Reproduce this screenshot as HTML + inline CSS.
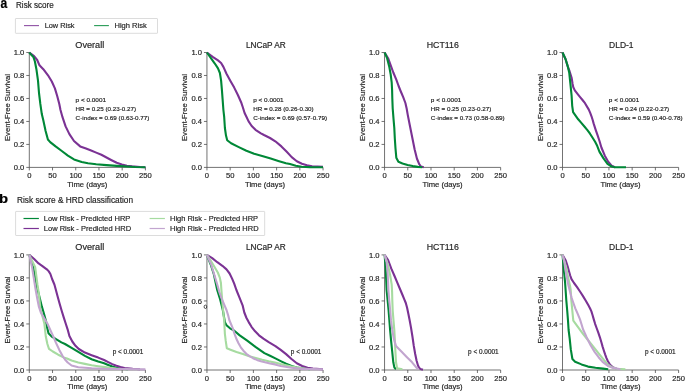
<!DOCTYPE html>
<html><head><meta charset="utf-8"><style>
html,body{margin:0;padding:0;background:#fff;width:685px;height:391px;overflow:hidden;}
svg{display:block;font-family:"Liberation Sans",sans-serif;}
text{-webkit-font-smoothing:antialiased;stroke:currentColor;stroke-width:0.18px;}
</style></head><body>
<div style="will-change:transform"><svg width="685" height="391" viewBox="0 0 685 391" font-family="Liberation Sans, sans-serif">
<rect width="685" height="391" fill="#fff"/>
<text x="0.60" y="7.70" font-size="14" text-anchor="start" font-weight="bold" fill="#000" color="#000" textLength="6.77" lengthAdjust="spacingAndGlyphs">a</text>
<text x="-1.10" y="202.50" font-size="13" text-anchor="start" font-weight="bold" fill="#000" color="#000" textLength="9.10" lengthAdjust="spacingAndGlyphs">b</text>
<text x="16.00" y="7.60" font-size="8.15" text-anchor="start" font-weight="normal" fill="#262626" color="#262626" textLength="37.80" lengthAdjust="spacingAndGlyphs">Risk score</text>
<text x="17.00" y="202.70" font-size="8.25" text-anchor="start" font-weight="normal" fill="#262626" color="#262626" textLength="116.00" lengthAdjust="spacingAndGlyphs">Risk score &amp; HRD classification</text>
<rect x="15.4" y="18.5" width="142.1" height="14.8" rx="0.4" fill="#fff" stroke="#dcdcdc" stroke-width="1"/>
<path d="M24,25.6H39" stroke="#7b3294" stroke-width="1.1" stroke-opacity="0.85"/>
<path d="M94.1,25.6H108.9" stroke="#008837" stroke-width="1.1" stroke-opacity="0.85"/>
<text x="44.70" y="28.00" font-size="7.35" text-anchor="start" font-weight="normal" fill="#262626" color="#262626" textLength="29.80" lengthAdjust="spacingAndGlyphs">Low Risk</text>
<text x="114.50" y="28.00" font-size="7.35" text-anchor="start" font-weight="normal" fill="#262626" color="#262626" textLength="32.20" lengthAdjust="spacingAndGlyphs">High Risk</text>
<rect x="15.6" y="211.4" width="249.1" height="24.1" rx="0.4" fill="#fff" stroke="#dcdcdc" stroke-width="1"/>
<path d="M23.5,218.5H38.9" stroke="#008837" stroke-width="1.2"/>
<path d="M23.5,228.5H38.9" stroke="#7b3294" stroke-width="1.2"/>
<path d="M149.6,218.5H164.9" stroke="#a6dba0" stroke-width="1.2"/>
<path d="M149.6,228.5H164.9" stroke="#c2a5cf" stroke-width="1.2"/>
<text x="43.80" y="220.90" font-size="7.45" text-anchor="start" font-weight="normal" fill="#262626" color="#262626" textLength="86.50" lengthAdjust="spacingAndGlyphs">Low Risk - Predicted HRP</text>
<text x="43.80" y="230.90" font-size="7.45" text-anchor="start" font-weight="normal" fill="#262626" color="#262626" textLength="87.30" lengthAdjust="spacingAndGlyphs">Low Risk - Predicted HRD</text>
<text x="170.00" y="220.90" font-size="7.45" text-anchor="start" font-weight="normal" fill="#262626" color="#262626" textLength="88.10" lengthAdjust="spacingAndGlyphs">High Risk - Predicted HRP</text>
<text x="170.00" y="230.90" font-size="7.45" text-anchor="start" font-weight="normal" fill="#262626" color="#262626" textLength="88.60" lengthAdjust="spacingAndGlyphs">High Risk - Predicted HRD</text>
<path d="M29.30,52.50V167.40H145.40" fill="none" stroke="#444444" stroke-width="0.75"/>
<path d="M26.30,167.40H29.30" stroke="#444444" stroke-width="0.75"/>
<text x="24.30" y="170.10" font-size="7.6" text-anchor="end" font-weight="normal" fill="#262626" color="#262626">0.0</text>
<path d="M26.30,144.42H29.30" stroke="#444444" stroke-width="0.75"/>
<text x="24.30" y="147.12" font-size="7.6" text-anchor="end" font-weight="normal" fill="#262626" color="#262626">0.2</text>
<path d="M26.30,121.44H29.30" stroke="#444444" stroke-width="0.75"/>
<text x="24.30" y="124.14" font-size="7.6" text-anchor="end" font-weight="normal" fill="#262626" color="#262626">0.4</text>
<path d="M26.30,98.46H29.30" stroke="#444444" stroke-width="0.75"/>
<text x="24.30" y="101.16" font-size="7.6" text-anchor="end" font-weight="normal" fill="#262626" color="#262626">0.6</text>
<path d="M26.30,75.48H29.30" stroke="#444444" stroke-width="0.75"/>
<text x="24.30" y="78.18" font-size="7.6" text-anchor="end" font-weight="normal" fill="#262626" color="#262626">0.8</text>
<path d="M26.30,52.50H29.30" stroke="#444444" stroke-width="0.75"/>
<text x="24.30" y="55.20" font-size="7.6" text-anchor="end" font-weight="normal" fill="#262626" color="#262626">1.0</text>
<path d="M29.30,167.40V170.40" stroke="#444444" stroke-width="0.75"/>
<text x="29.30" y="177.90" font-size="7.6" text-anchor="middle" font-weight="normal" fill="#262626" color="#262626">0</text>
<path d="M52.52,167.40V170.40" stroke="#444444" stroke-width="0.75"/>
<text x="52.52" y="177.90" font-size="7.6" text-anchor="middle" font-weight="normal" fill="#262626" color="#262626">50</text>
<path d="M75.74,167.40V170.40" stroke="#444444" stroke-width="0.75"/>
<text x="75.74" y="177.90" font-size="7.6" text-anchor="middle" font-weight="normal" fill="#262626" color="#262626">100</text>
<path d="M98.96,167.40V170.40" stroke="#444444" stroke-width="0.75"/>
<text x="98.96" y="177.90" font-size="7.6" text-anchor="middle" font-weight="normal" fill="#262626" color="#262626">150</text>
<path d="M122.18,167.40V170.40" stroke="#444444" stroke-width="0.75"/>
<text x="122.18" y="177.90" font-size="7.6" text-anchor="middle" font-weight="normal" fill="#262626" color="#262626">200</text>
<path d="M145.40,167.40V170.40" stroke="#444444" stroke-width="0.75"/>
<text x="145.40" y="177.90" font-size="7.6" text-anchor="middle" font-weight="normal" fill="#262626" color="#262626">250</text>
<text x="87.35" y="187.30" font-size="7.6" text-anchor="middle" font-weight="normal" fill="#262626" color="#262626" textLength="40.00" lengthAdjust="spacingAndGlyphs">Time (days)</text>
<text transform="translate(9.50,107.55) rotate(-90)" x="0" y="0" font-size="7.9" text-anchor="middle" fill="#262626" color="#262626" textLength="66.9" lengthAdjust="spacingAndGlyphs">Event-Free Survival</text>
<text x="89.75" y="47.80" font-size="8.3" text-anchor="middle" font-weight="normal" fill="#262626" color="#262626" textLength="28.90" lengthAdjust="spacingAndGlyphs">Overall</text>
<path d="M206.95,52.50V167.40H323.05" fill="none" stroke="#444444" stroke-width="0.75"/>
<path d="M203.95,167.40H206.95" stroke="#444444" stroke-width="0.75"/>
<text x="201.95" y="170.10" font-size="7.6" text-anchor="end" font-weight="normal" fill="#262626" color="#262626">0.0</text>
<path d="M203.95,144.42H206.95" stroke="#444444" stroke-width="0.75"/>
<text x="201.95" y="147.12" font-size="7.6" text-anchor="end" font-weight="normal" fill="#262626" color="#262626">0.2</text>
<path d="M203.95,121.44H206.95" stroke="#444444" stroke-width="0.75"/>
<text x="201.95" y="124.14" font-size="7.6" text-anchor="end" font-weight="normal" fill="#262626" color="#262626">0.4</text>
<path d="M203.95,98.46H206.95" stroke="#444444" stroke-width="0.75"/>
<text x="201.95" y="101.16" font-size="7.6" text-anchor="end" font-weight="normal" fill="#262626" color="#262626">0.6</text>
<path d="M203.95,75.48H206.95" stroke="#444444" stroke-width="0.75"/>
<text x="201.95" y="78.18" font-size="7.6" text-anchor="end" font-weight="normal" fill="#262626" color="#262626">0.8</text>
<path d="M203.95,52.50H206.95" stroke="#444444" stroke-width="0.75"/>
<text x="201.95" y="55.20" font-size="7.6" text-anchor="end" font-weight="normal" fill="#262626" color="#262626">1.0</text>
<path d="M206.95,167.40V170.40" stroke="#444444" stroke-width="0.75"/>
<text x="206.95" y="177.90" font-size="7.6" text-anchor="middle" font-weight="normal" fill="#262626" color="#262626">0</text>
<path d="M230.17,167.40V170.40" stroke="#444444" stroke-width="0.75"/>
<text x="230.17" y="177.90" font-size="7.6" text-anchor="middle" font-weight="normal" fill="#262626" color="#262626">50</text>
<path d="M253.39,167.40V170.40" stroke="#444444" stroke-width="0.75"/>
<text x="253.39" y="177.90" font-size="7.6" text-anchor="middle" font-weight="normal" fill="#262626" color="#262626">100</text>
<path d="M276.61,167.40V170.40" stroke="#444444" stroke-width="0.75"/>
<text x="276.61" y="177.90" font-size="7.6" text-anchor="middle" font-weight="normal" fill="#262626" color="#262626">150</text>
<path d="M299.83,167.40V170.40" stroke="#444444" stroke-width="0.75"/>
<text x="299.83" y="177.90" font-size="7.6" text-anchor="middle" font-weight="normal" fill="#262626" color="#262626">200</text>
<path d="M323.05,167.40V170.40" stroke="#444444" stroke-width="0.75"/>
<text x="323.05" y="177.90" font-size="7.6" text-anchor="middle" font-weight="normal" fill="#262626" color="#262626">250</text>
<text x="265.00" y="187.30" font-size="7.6" text-anchor="middle" font-weight="normal" fill="#262626" color="#262626" textLength="40.00" lengthAdjust="spacingAndGlyphs">Time (days)</text>
<text transform="translate(187.15,107.55) rotate(-90)" x="0" y="0" font-size="7.9" text-anchor="middle" fill="#262626" color="#262626" textLength="66.9" lengthAdjust="spacingAndGlyphs">Event-Free Survival</text>
<text x="265.85" y="47.80" font-size="8.3" text-anchor="middle" font-weight="normal" fill="#262626" color="#262626" textLength="39.90" lengthAdjust="spacingAndGlyphs">LNCaP AR</text>
<path d="M384.55,52.50V167.40H500.65" fill="none" stroke="#444444" stroke-width="0.75"/>
<path d="M381.55,167.40H384.55" stroke="#444444" stroke-width="0.75"/>
<text x="379.55" y="170.10" font-size="7.6" text-anchor="end" font-weight="normal" fill="#262626" color="#262626">0.0</text>
<path d="M381.55,144.42H384.55" stroke="#444444" stroke-width="0.75"/>
<text x="379.55" y="147.12" font-size="7.6" text-anchor="end" font-weight="normal" fill="#262626" color="#262626">0.2</text>
<path d="M381.55,121.44H384.55" stroke="#444444" stroke-width="0.75"/>
<text x="379.55" y="124.14" font-size="7.6" text-anchor="end" font-weight="normal" fill="#262626" color="#262626">0.4</text>
<path d="M381.55,98.46H384.55" stroke="#444444" stroke-width="0.75"/>
<text x="379.55" y="101.16" font-size="7.6" text-anchor="end" font-weight="normal" fill="#262626" color="#262626">0.6</text>
<path d="M381.55,75.48H384.55" stroke="#444444" stroke-width="0.75"/>
<text x="379.55" y="78.18" font-size="7.6" text-anchor="end" font-weight="normal" fill="#262626" color="#262626">0.8</text>
<path d="M381.55,52.50H384.55" stroke="#444444" stroke-width="0.75"/>
<text x="379.55" y="55.20" font-size="7.6" text-anchor="end" font-weight="normal" fill="#262626" color="#262626">1.0</text>
<path d="M384.55,167.40V170.40" stroke="#444444" stroke-width="0.75"/>
<text x="384.55" y="177.90" font-size="7.6" text-anchor="middle" font-weight="normal" fill="#262626" color="#262626">0</text>
<path d="M407.77,167.40V170.40" stroke="#444444" stroke-width="0.75"/>
<text x="407.77" y="177.90" font-size="7.6" text-anchor="middle" font-weight="normal" fill="#262626" color="#262626">50</text>
<path d="M430.99,167.40V170.40" stroke="#444444" stroke-width="0.75"/>
<text x="430.99" y="177.90" font-size="7.6" text-anchor="middle" font-weight="normal" fill="#262626" color="#262626">100</text>
<path d="M454.21,167.40V170.40" stroke="#444444" stroke-width="0.75"/>
<text x="454.21" y="177.90" font-size="7.6" text-anchor="middle" font-weight="normal" fill="#262626" color="#262626">150</text>
<path d="M477.43,167.40V170.40" stroke="#444444" stroke-width="0.75"/>
<text x="477.43" y="177.90" font-size="7.6" text-anchor="middle" font-weight="normal" fill="#262626" color="#262626">200</text>
<path d="M500.65,167.40V170.40" stroke="#444444" stroke-width="0.75"/>
<text x="500.65" y="177.90" font-size="7.6" text-anchor="middle" font-weight="normal" fill="#262626" color="#262626">250</text>
<text x="442.60" y="187.30" font-size="7.6" text-anchor="middle" font-weight="normal" fill="#262626" color="#262626" textLength="40.00" lengthAdjust="spacingAndGlyphs">Time (days)</text>
<text transform="translate(364.75,107.55) rotate(-90)" x="0" y="0" font-size="7.9" text-anchor="middle" fill="#262626" color="#262626" textLength="66.9" lengthAdjust="spacingAndGlyphs">Event-Free Survival</text>
<text x="442.75" y="47.80" font-size="8.3" text-anchor="middle" font-weight="normal" fill="#262626" color="#262626" textLength="32.10" lengthAdjust="spacingAndGlyphs">HCT116</text>
<path d="M562.50,52.50V167.40H678.60" fill="none" stroke="#444444" stroke-width="0.75"/>
<path d="M559.50,167.40H562.50" stroke="#444444" stroke-width="0.75"/>
<text x="557.50" y="170.10" font-size="7.6" text-anchor="end" font-weight="normal" fill="#262626" color="#262626">0.0</text>
<path d="M559.50,144.42H562.50" stroke="#444444" stroke-width="0.75"/>
<text x="557.50" y="147.12" font-size="7.6" text-anchor="end" font-weight="normal" fill="#262626" color="#262626">0.2</text>
<path d="M559.50,121.44H562.50" stroke="#444444" stroke-width="0.75"/>
<text x="557.50" y="124.14" font-size="7.6" text-anchor="end" font-weight="normal" fill="#262626" color="#262626">0.4</text>
<path d="M559.50,98.46H562.50" stroke="#444444" stroke-width="0.75"/>
<text x="557.50" y="101.16" font-size="7.6" text-anchor="end" font-weight="normal" fill="#262626" color="#262626">0.6</text>
<path d="M559.50,75.48H562.50" stroke="#444444" stroke-width="0.75"/>
<text x="557.50" y="78.18" font-size="7.6" text-anchor="end" font-weight="normal" fill="#262626" color="#262626">0.8</text>
<path d="M559.50,52.50H562.50" stroke="#444444" stroke-width="0.75"/>
<text x="557.50" y="55.20" font-size="7.6" text-anchor="end" font-weight="normal" fill="#262626" color="#262626">1.0</text>
<path d="M562.50,167.40V170.40" stroke="#444444" stroke-width="0.75"/>
<text x="562.50" y="177.90" font-size="7.6" text-anchor="middle" font-weight="normal" fill="#262626" color="#262626">0</text>
<path d="M585.72,167.40V170.40" stroke="#444444" stroke-width="0.75"/>
<text x="585.72" y="177.90" font-size="7.6" text-anchor="middle" font-weight="normal" fill="#262626" color="#262626">50</text>
<path d="M608.94,167.40V170.40" stroke="#444444" stroke-width="0.75"/>
<text x="608.94" y="177.90" font-size="7.6" text-anchor="middle" font-weight="normal" fill="#262626" color="#262626">100</text>
<path d="M632.16,167.40V170.40" stroke="#444444" stroke-width="0.75"/>
<text x="632.16" y="177.90" font-size="7.6" text-anchor="middle" font-weight="normal" fill="#262626" color="#262626">150</text>
<path d="M655.38,167.40V170.40" stroke="#444444" stroke-width="0.75"/>
<text x="655.38" y="177.90" font-size="7.6" text-anchor="middle" font-weight="normal" fill="#262626" color="#262626">200</text>
<path d="M678.60,167.40V170.40" stroke="#444444" stroke-width="0.75"/>
<text x="678.60" y="177.90" font-size="7.6" text-anchor="middle" font-weight="normal" fill="#262626" color="#262626">250</text>
<text x="620.55" y="187.30" font-size="7.6" text-anchor="middle" font-weight="normal" fill="#262626" color="#262626" textLength="40.00" lengthAdjust="spacingAndGlyphs">Time (days)</text>
<text transform="translate(542.70,107.55) rotate(-90)" x="0" y="0" font-size="7.9" text-anchor="middle" fill="#262626" color="#262626" textLength="66.9" lengthAdjust="spacingAndGlyphs">Event-Free Survival</text>
<text x="621.35" y="47.80" font-size="8.3" text-anchor="middle" font-weight="normal" fill="#262626" color="#262626" textLength="24.50" lengthAdjust="spacingAndGlyphs">DLD-1</text>
<path d="M29.30,254.90V370.00H145.40" fill="none" stroke="#444444" stroke-width="0.75"/>
<path d="M26.30,370.00H29.30" stroke="#444444" stroke-width="0.75"/>
<text x="24.30" y="372.70" font-size="7.6" text-anchor="end" font-weight="normal" fill="#262626" color="#262626">0.0</text>
<path d="M26.30,346.98H29.30" stroke="#444444" stroke-width="0.75"/>
<text x="24.30" y="349.68" font-size="7.6" text-anchor="end" font-weight="normal" fill="#262626" color="#262626">0.2</text>
<path d="M26.30,323.96H29.30" stroke="#444444" stroke-width="0.75"/>
<text x="24.30" y="326.66" font-size="7.6" text-anchor="end" font-weight="normal" fill="#262626" color="#262626">0.4</text>
<path d="M26.30,300.94H29.30" stroke="#444444" stroke-width="0.75"/>
<text x="24.30" y="303.64" font-size="7.6" text-anchor="end" font-weight="normal" fill="#262626" color="#262626">0.6</text>
<path d="M26.30,277.92H29.30" stroke="#444444" stroke-width="0.75"/>
<text x="24.30" y="280.62" font-size="7.6" text-anchor="end" font-weight="normal" fill="#262626" color="#262626">0.8</text>
<path d="M26.30,254.90H29.30" stroke="#444444" stroke-width="0.75"/>
<text x="24.30" y="257.60" font-size="7.6" text-anchor="end" font-weight="normal" fill="#262626" color="#262626">1.0</text>
<path d="M29.30,370.00V373.00" stroke="#444444" stroke-width="0.75"/>
<text x="29.30" y="380.50" font-size="7.6" text-anchor="middle" font-weight="normal" fill="#262626" color="#262626">0</text>
<path d="M52.52,370.00V373.00" stroke="#444444" stroke-width="0.75"/>
<text x="52.52" y="380.50" font-size="7.6" text-anchor="middle" font-weight="normal" fill="#262626" color="#262626">50</text>
<path d="M75.74,370.00V373.00" stroke="#444444" stroke-width="0.75"/>
<text x="75.74" y="380.50" font-size="7.6" text-anchor="middle" font-weight="normal" fill="#262626" color="#262626">100</text>
<path d="M98.96,370.00V373.00" stroke="#444444" stroke-width="0.75"/>
<text x="98.96" y="380.50" font-size="7.6" text-anchor="middle" font-weight="normal" fill="#262626" color="#262626">150</text>
<path d="M122.18,370.00V373.00" stroke="#444444" stroke-width="0.75"/>
<text x="122.18" y="380.50" font-size="7.6" text-anchor="middle" font-weight="normal" fill="#262626" color="#262626">200</text>
<path d="M145.40,370.00V373.00" stroke="#444444" stroke-width="0.75"/>
<text x="145.40" y="380.50" font-size="7.6" text-anchor="middle" font-weight="normal" fill="#262626" color="#262626">250</text>
<text x="87.35" y="389.30" font-size="7.6" text-anchor="middle" font-weight="normal" fill="#262626" color="#262626" textLength="40.00" lengthAdjust="spacingAndGlyphs">Time (days)</text>
<text transform="translate(9.50,310.05) rotate(-90)" x="0" y="0" font-size="7.9" text-anchor="middle" fill="#262626" color="#262626" textLength="66.9" lengthAdjust="spacingAndGlyphs">Event-Free Survival</text>
<text x="89.75" y="250.20" font-size="8.3" text-anchor="middle" font-weight="normal" fill="#262626" color="#262626" textLength="28.90" lengthAdjust="spacingAndGlyphs">Overall</text>
<path d="M206.95,254.90V370.00H323.05" fill="none" stroke="#444444" stroke-width="0.75"/>
<path d="M203.95,370.00H206.95" stroke="#444444" stroke-width="0.75"/>
<text x="201.95" y="372.70" font-size="7.6" text-anchor="end" font-weight="normal" fill="#262626" color="#262626">0.0</text>
<path d="M203.95,346.98H206.95" stroke="#444444" stroke-width="0.75"/>
<text x="201.95" y="349.68" font-size="7.6" text-anchor="end" font-weight="normal" fill="#262626" color="#262626">0.2</text>
<path d="M203.95,323.96H206.95" stroke="#444444" stroke-width="0.75"/>
<text x="201.95" y="326.66" font-size="7.6" text-anchor="end" font-weight="normal" fill="#262626" color="#262626">0.4</text>
<path d="M203.95,300.94H206.95" stroke="#444444" stroke-width="0.75"/>
<text x="201.95" y="303.64" font-size="7.6" text-anchor="end" font-weight="normal" fill="#262626" color="#262626">0.6</text>
<path d="M203.95,277.92H206.95" stroke="#444444" stroke-width="0.75"/>
<text x="201.95" y="280.62" font-size="7.6" text-anchor="end" font-weight="normal" fill="#262626" color="#262626">0.8</text>
<path d="M203.95,254.90H206.95" stroke="#444444" stroke-width="0.75"/>
<text x="201.95" y="257.60" font-size="7.6" text-anchor="end" font-weight="normal" fill="#262626" color="#262626">1.0</text>
<path d="M206.95,370.00V373.00" stroke="#444444" stroke-width="0.75"/>
<text x="206.95" y="380.50" font-size="7.6" text-anchor="middle" font-weight="normal" fill="#262626" color="#262626">0</text>
<path d="M230.17,370.00V373.00" stroke="#444444" stroke-width="0.75"/>
<text x="230.17" y="380.50" font-size="7.6" text-anchor="middle" font-weight="normal" fill="#262626" color="#262626">50</text>
<path d="M253.39,370.00V373.00" stroke="#444444" stroke-width="0.75"/>
<text x="253.39" y="380.50" font-size="7.6" text-anchor="middle" font-weight="normal" fill="#262626" color="#262626">100</text>
<path d="M276.61,370.00V373.00" stroke="#444444" stroke-width="0.75"/>
<text x="276.61" y="380.50" font-size="7.6" text-anchor="middle" font-weight="normal" fill="#262626" color="#262626">150</text>
<path d="M299.83,370.00V373.00" stroke="#444444" stroke-width="0.75"/>
<text x="299.83" y="380.50" font-size="7.6" text-anchor="middle" font-weight="normal" fill="#262626" color="#262626">200</text>
<path d="M323.05,370.00V373.00" stroke="#444444" stroke-width="0.75"/>
<text x="323.05" y="380.50" font-size="7.6" text-anchor="middle" font-weight="normal" fill="#262626" color="#262626">250</text>
<text x="265.00" y="389.30" font-size="7.6" text-anchor="middle" font-weight="normal" fill="#262626" color="#262626" textLength="40.00" lengthAdjust="spacingAndGlyphs">Time (days)</text>
<text transform="translate(187.15,310.05) rotate(-90)" x="0" y="0" font-size="7.9" text-anchor="middle" fill="#262626" color="#262626" textLength="66.9" lengthAdjust="spacingAndGlyphs">Event-Free Survival</text>
<text x="265.85" y="250.20" font-size="8.3" text-anchor="middle" font-weight="normal" fill="#262626" color="#262626" textLength="39.90" lengthAdjust="spacingAndGlyphs">LNCaP AR</text>
<path d="M384.55,254.90V370.00H500.65" fill="none" stroke="#444444" stroke-width="0.75"/>
<path d="M381.55,370.00H384.55" stroke="#444444" stroke-width="0.75"/>
<text x="379.55" y="372.70" font-size="7.6" text-anchor="end" font-weight="normal" fill="#262626" color="#262626">0.0</text>
<path d="M381.55,346.98H384.55" stroke="#444444" stroke-width="0.75"/>
<text x="379.55" y="349.68" font-size="7.6" text-anchor="end" font-weight="normal" fill="#262626" color="#262626">0.2</text>
<path d="M381.55,323.96H384.55" stroke="#444444" stroke-width="0.75"/>
<text x="379.55" y="326.66" font-size="7.6" text-anchor="end" font-weight="normal" fill="#262626" color="#262626">0.4</text>
<path d="M381.55,300.94H384.55" stroke="#444444" stroke-width="0.75"/>
<text x="379.55" y="303.64" font-size="7.6" text-anchor="end" font-weight="normal" fill="#262626" color="#262626">0.6</text>
<path d="M381.55,277.92H384.55" stroke="#444444" stroke-width="0.75"/>
<text x="379.55" y="280.62" font-size="7.6" text-anchor="end" font-weight="normal" fill="#262626" color="#262626">0.8</text>
<path d="M381.55,254.90H384.55" stroke="#444444" stroke-width="0.75"/>
<text x="379.55" y="257.60" font-size="7.6" text-anchor="end" font-weight="normal" fill="#262626" color="#262626">1.0</text>
<path d="M384.55,370.00V373.00" stroke="#444444" stroke-width="0.75"/>
<text x="384.55" y="380.50" font-size="7.6" text-anchor="middle" font-weight="normal" fill="#262626" color="#262626">0</text>
<path d="M407.77,370.00V373.00" stroke="#444444" stroke-width="0.75"/>
<text x="407.77" y="380.50" font-size="7.6" text-anchor="middle" font-weight="normal" fill="#262626" color="#262626">50</text>
<path d="M430.99,370.00V373.00" stroke="#444444" stroke-width="0.75"/>
<text x="430.99" y="380.50" font-size="7.6" text-anchor="middle" font-weight="normal" fill="#262626" color="#262626">100</text>
<path d="M454.21,370.00V373.00" stroke="#444444" stroke-width="0.75"/>
<text x="454.21" y="380.50" font-size="7.6" text-anchor="middle" font-weight="normal" fill="#262626" color="#262626">150</text>
<path d="M477.43,370.00V373.00" stroke="#444444" stroke-width="0.75"/>
<text x="477.43" y="380.50" font-size="7.6" text-anchor="middle" font-weight="normal" fill="#262626" color="#262626">200</text>
<path d="M500.65,370.00V373.00" stroke="#444444" stroke-width="0.75"/>
<text x="500.65" y="380.50" font-size="7.6" text-anchor="middle" font-weight="normal" fill="#262626" color="#262626">250</text>
<text x="442.60" y="389.30" font-size="7.6" text-anchor="middle" font-weight="normal" fill="#262626" color="#262626" textLength="40.00" lengthAdjust="spacingAndGlyphs">Time (days)</text>
<text transform="translate(364.75,310.05) rotate(-90)" x="0" y="0" font-size="7.9" text-anchor="middle" fill="#262626" color="#262626" textLength="66.9" lengthAdjust="spacingAndGlyphs">Event-Free Survival</text>
<text x="442.75" y="250.20" font-size="8.3" text-anchor="middle" font-weight="normal" fill="#262626" color="#262626" textLength="32.10" lengthAdjust="spacingAndGlyphs">HCT116</text>
<path d="M562.50,254.90V370.00H678.60" fill="none" stroke="#444444" stroke-width="0.75"/>
<path d="M559.50,370.00H562.50" stroke="#444444" stroke-width="0.75"/>
<text x="557.50" y="372.70" font-size="7.6" text-anchor="end" font-weight="normal" fill="#262626" color="#262626">0.0</text>
<path d="M559.50,346.98H562.50" stroke="#444444" stroke-width="0.75"/>
<text x="557.50" y="349.68" font-size="7.6" text-anchor="end" font-weight="normal" fill="#262626" color="#262626">0.2</text>
<path d="M559.50,323.96H562.50" stroke="#444444" stroke-width="0.75"/>
<text x="557.50" y="326.66" font-size="7.6" text-anchor="end" font-weight="normal" fill="#262626" color="#262626">0.4</text>
<path d="M559.50,300.94H562.50" stroke="#444444" stroke-width="0.75"/>
<text x="557.50" y="303.64" font-size="7.6" text-anchor="end" font-weight="normal" fill="#262626" color="#262626">0.6</text>
<path d="M559.50,277.92H562.50" stroke="#444444" stroke-width="0.75"/>
<text x="557.50" y="280.62" font-size="7.6" text-anchor="end" font-weight="normal" fill="#262626" color="#262626">0.8</text>
<path d="M559.50,254.90H562.50" stroke="#444444" stroke-width="0.75"/>
<text x="557.50" y="257.60" font-size="7.6" text-anchor="end" font-weight="normal" fill="#262626" color="#262626">1.0</text>
<path d="M562.50,370.00V373.00" stroke="#444444" stroke-width="0.75"/>
<text x="562.50" y="380.50" font-size="7.6" text-anchor="middle" font-weight="normal" fill="#262626" color="#262626">0</text>
<path d="M585.72,370.00V373.00" stroke="#444444" stroke-width="0.75"/>
<text x="585.72" y="380.50" font-size="7.6" text-anchor="middle" font-weight="normal" fill="#262626" color="#262626">50</text>
<path d="M608.94,370.00V373.00" stroke="#444444" stroke-width="0.75"/>
<text x="608.94" y="380.50" font-size="7.6" text-anchor="middle" font-weight="normal" fill="#262626" color="#262626">100</text>
<path d="M632.16,370.00V373.00" stroke="#444444" stroke-width="0.75"/>
<text x="632.16" y="380.50" font-size="7.6" text-anchor="middle" font-weight="normal" fill="#262626" color="#262626">150</text>
<path d="M655.38,370.00V373.00" stroke="#444444" stroke-width="0.75"/>
<text x="655.38" y="380.50" font-size="7.6" text-anchor="middle" font-weight="normal" fill="#262626" color="#262626">200</text>
<path d="M678.60,370.00V373.00" stroke="#444444" stroke-width="0.75"/>
<text x="678.60" y="380.50" font-size="7.6" text-anchor="middle" font-weight="normal" fill="#262626" color="#262626">250</text>
<text x="620.55" y="389.30" font-size="7.6" text-anchor="middle" font-weight="normal" fill="#262626" color="#262626" textLength="40.00" lengthAdjust="spacingAndGlyphs">Time (days)</text>
<text transform="translate(542.70,310.05) rotate(-90)" x="0" y="0" font-size="7.9" text-anchor="middle" fill="#262626" color="#262626" textLength="66.9" lengthAdjust="spacingAndGlyphs">Event-Free Survival</text>
<text x="621.35" y="250.20" font-size="8.3" text-anchor="middle" font-weight="normal" fill="#262626" color="#262626" textLength="24.50" lengthAdjust="spacingAndGlyphs">DLD-1</text>
<text x="75.60" y="102.20" font-size="6.0" text-anchor="start" font-weight="normal" fill="#262626" color="#262626" textLength="30.40" lengthAdjust="spacingAndGlyphs">p &lt; 0.0001</text>
<text x="75.60" y="111.30" font-size="6.2" text-anchor="start" font-weight="normal" fill="#262626" color="#262626" textLength="60.40" lengthAdjust="spacingAndGlyphs">HR = 0.25 (0.23-0.27)</text>
<text x="75.60" y="120.40" font-size="6.2" text-anchor="start" font-weight="normal" fill="#262626" color="#262626" textLength="73.80" lengthAdjust="spacingAndGlyphs">C-index = 0.69 (0.63-0.77)</text>
<text x="112.70" y="353.80" font-size="6.3" text-anchor="start" font-weight="normal" fill="#262626" color="#262626" textLength="30.60" lengthAdjust="spacingAndGlyphs">p &lt; 0.0001</text>
<text x="253.25" y="102.20" font-size="6.0" text-anchor="start" font-weight="normal" fill="#262626" color="#262626" textLength="30.40" lengthAdjust="spacingAndGlyphs">p &lt; 0.0001</text>
<text x="253.25" y="111.30" font-size="6.2" text-anchor="start" font-weight="normal" fill="#262626" color="#262626" textLength="60.40" lengthAdjust="spacingAndGlyphs">HR = 0.28 (0.26-0.30)</text>
<text x="253.25" y="120.40" font-size="6.2" text-anchor="start" font-weight="normal" fill="#262626" color="#262626" textLength="73.80" lengthAdjust="spacingAndGlyphs">C-index = 0.69 (0.57-0.79)</text>
<text x="290.80" y="353.80" font-size="6.3" text-anchor="start" font-weight="normal" fill="#262626" color="#262626" textLength="30.60" lengthAdjust="spacingAndGlyphs">p &lt; 0.0001</text>
<text x="430.85" y="102.20" font-size="6.0" text-anchor="start" font-weight="normal" fill="#262626" color="#262626" textLength="30.40" lengthAdjust="spacingAndGlyphs">p &lt; 0.0001</text>
<text x="430.85" y="111.30" font-size="6.2" text-anchor="start" font-weight="normal" fill="#262626" color="#262626" textLength="60.40" lengthAdjust="spacingAndGlyphs">HR = 0.25 (0.23-0.27)</text>
<text x="430.85" y="120.40" font-size="6.2" text-anchor="start" font-weight="normal" fill="#262626" color="#262626" textLength="73.80" lengthAdjust="spacingAndGlyphs">C-index = 0.73 (0.58-0.89)</text>
<text x="468.10" y="353.80" font-size="6.3" text-anchor="start" font-weight="normal" fill="#262626" color="#262626" textLength="30.60" lengthAdjust="spacingAndGlyphs">p &lt; 0.0001</text>
<text x="608.80" y="102.20" font-size="6.0" text-anchor="start" font-weight="normal" fill="#262626" color="#262626" textLength="30.40" lengthAdjust="spacingAndGlyphs">p &lt; 0.0001</text>
<text x="608.80" y="111.30" font-size="6.2" text-anchor="start" font-weight="normal" fill="#262626" color="#262626" textLength="60.40" lengthAdjust="spacingAndGlyphs">HR = 0.24 (0.22-0.27)</text>
<text x="608.80" y="120.40" font-size="6.2" text-anchor="start" font-weight="normal" fill="#262626" color="#262626" textLength="73.80" lengthAdjust="spacingAndGlyphs">C-index = 0.59 (0.40-0.78)</text>
<text x="645.00" y="353.80" font-size="6.3" text-anchor="start" font-weight="normal" fill="#262626" color="#262626" textLength="30.60" lengthAdjust="spacingAndGlyphs">p &lt; 0.0001</text>
<polyline points="29.3,52.5 34.1,56.1 37.2,60.0 39.5,65.3 43.3,69.2 48.0,75.3 51.8,81.5 54.9,88.4 57.2,96.0 59.3,104.0 60.5,110.0 62.5,117.2 65.6,126.4 69.4,134.1 74.0,141.0 80.2,146.4 86.0,148.6 91.1,150.5 96.2,152.6 101.4,154.8 106.5,157.5 111.6,160.2 116.7,162.8 121.8,164.6 126.9,165.7 132.1,166.3 140.0,167.0 145.4,167.2" fill="none" stroke="#7b3294" stroke-width="2.1" stroke-linejoin="round" stroke-linecap="butt"/>
<polyline points="29.3,52.5 30.3,53.8 33.4,56.9 34.9,61.5 36.4,69.2 38.0,80.7 39.0,93.0 40.3,103.7 41.8,114.1 43.3,120.3 45.6,131.0 47.9,139.5 50.2,142.1 55.6,146.4 61.8,151.0 67.9,155.6 74.0,159.4 81.7,162.0 88.0,163.2 96.2,164.2 106.5,165.1 116.7,165.9 126.9,166.5 135.0,167.0 145.4,167.2" fill="none" stroke="#008837" stroke-width="2.1" stroke-linejoin="round" stroke-linecap="butt"/>
<polyline points="206.9,52.5 212.7,56.9 218.0,60.4 221.1,63.0 223.4,66.9 226.5,73.8 230.3,80.7 234.2,87.6 238.0,95.3 241.1,102.2 242.9,107.5 244.6,113.0 246.3,116.5 248.6,121.4 251.7,126.0 255.5,129.8 260.9,133.3 264.0,135.0 267.0,136.5 270.0,138.0 275.3,141.3 281.4,146.4 286.5,151.5 291.7,157.1 296.8,161.2 301.9,163.8 307.0,165.3 312.1,166.2 323.0,166.9" fill="none" stroke="#7b3294" stroke-width="2.1" stroke-linejoin="round" stroke-linecap="butt"/>
<polyline points="206.9,52.5 211.1,58.4 215.0,63.8 218.0,68.4 219.9,73.0 221.1,80.7 221.9,89.9 222.6,99.1 223.4,110.0 224.2,117.2 224.9,128.0 226.0,135.6 227.2,140.2 231.1,143.3 238.8,147.1 246.4,150.7 254.1,153.7 263.0,156.3 270.7,158.6 278.3,160.9 286.0,163.2 290.0,164.1 295.8,165.8 301.7,166.7 310.0,167.1 323.0,167.3" fill="none" stroke="#008837" stroke-width="2.1" stroke-linejoin="round" stroke-linecap="butt"/>
<polyline points="384.6,52.5 388.1,58.2 390.7,65.3 393.3,72.5 396.3,79.7 398.6,86.0 400.8,91.5 403.2,97.2 405.4,103.0 406.7,108.8 407.7,114.6 410.0,126.2 412.3,137.7 414.6,149.2 416.9,158.5 419.2,164.2 421.0,166.6 423.8,167.3" fill="none" stroke="#7b3294" stroke-width="2.1" stroke-linejoin="round" stroke-linecap="butt"/>
<polyline points="384.6,52.5 387.1,58.2 389.2,66.4 390.7,74.6 391.7,82.7 392.1,90.0 392.3,98.2 392.7,108.5 393.5,118.7 394.3,128.0 394.8,138.2 395.5,148.5 396.3,157.7 398.4,161.8 402.5,163.4 407.6,164.9 412.7,166.1 417.8,166.9 422.3,167.3" fill="none" stroke="#008837" stroke-width="2.1" stroke-linejoin="round" stroke-linecap="butt"/>
<polyline points="562.5,52.5 565.6,59.2 567.7,66.4 569.5,71.0 571.6,77.7 572.6,84.0 573.3,87.2 574.8,90.4 577.3,93.6 579.9,96.8 582.5,100.0 585.0,103.2 588.8,109.6 590.3,113.2 591.5,116.3 592.6,119.8 593.6,123.4 595.6,129.6 597.7,135.7 599.5,141.0 601.4,147.5 604.8,155.7 608.2,161.8 611.6,165.8 615.0,167.2" fill="none" stroke="#7b3294" stroke-width="2.1" stroke-linejoin="round" stroke-linecap="butt"/>
<polyline points="562.5,52.5 565.6,59.2 567.8,66.4 569.2,72.5 570.3,82.8 571.6,95.6 572.2,105.8 573.1,112.2 575.2,115.2 578.2,119.3 581.3,122.9 584.4,126.5 587.4,130.1 590.0,133.7 592.6,137.8 595.1,141.8 596.9,145.2 599.4,151.6 603.5,158.4 607.5,163.8 611.6,166.5 614.0,167.1 626.0,167.3" fill="none" stroke="#008837" stroke-width="2.1" stroke-linejoin="round" stroke-linecap="butt"/>
<polyline points="29.3,254.9 33.1,267.3 36.7,285.0 37.7,290.0 39.8,298.2 41.8,306.4 43.9,313.5 45.9,320.7 47.0,327.0 48.5,333.2 51.7,336.5 56.0,339.1 61.4,342.4 65.0,344.0 71.6,347.9 78.3,351.9 84.9,355.9 91.6,359.2 98.2,361.6 104.1,363.3 108.2,365.0 112.3,366.6 116.4,367.8 122.1,368.6 128.0,369.3" fill="none" stroke="#008837" stroke-width="2.1" stroke-linejoin="round" stroke-linecap="butt"/>
<polyline points="29.3,254.9 33.9,258.7 38.6,263.4 42.1,265.8 46.8,269.3 48.8,271.4 50.4,274.0 52.1,279.0 54.4,284.5 55.9,290.0 57.5,296.1 59.5,303.3 61.6,310.5 63.8,317.6 65.7,323.5 67.6,329.3 69.4,336.0 72.3,341.5 75.5,345.8 78.8,349.0 84.9,352.6 91.6,355.2 98.2,357.6 104.1,360.0 108.2,362.1 112.3,364.1 116.4,365.8 120.5,367.0 124.5,368.0 132.7,368.8 140.0,369.3" fill="none" stroke="#7b3294" stroke-width="2.1" stroke-linejoin="round" stroke-linecap="butt"/>
<polyline points="29.3,254.9 35.2,267.3 37.5,285.0 38.3,290.0 39.3,298.2 40.3,308.4 42.3,315.6 44.4,323.8 45.8,336.5 47.4,344.0 49.0,348.8 52.8,351.5 58.2,354.7 63.6,357.4 67.0,358.5 71.6,360.5 78.3,362.5 84.9,363.9 91.6,365.2 98.2,366.2 105.0,367.1 110.0,367.9 116.4,368.6 125.0,369.3" fill="none" stroke="#a6dba0" stroke-width="2.1" stroke-linejoin="round" stroke-linecap="butt"/>
<polyline points="29.3,254.9 32.1,267.3 35.7,290.0 37.2,298.2 38.8,306.4 40.8,312.5 44.4,318.6 47.5,323.8 50.3,330.0 52.8,335.4 56.0,342.9 59.3,349.9 62.5,355.8 65.0,359.5 67.7,362.5 71.6,365.5 78.3,367.2 91.6,368.3 105.0,368.8 145.4,369.4" fill="none" stroke="#c2a5cf" stroke-width="2.1" stroke-linejoin="round" stroke-linecap="butt"/>
<polyline points="206.9,254.9 210.6,264.3 213.9,274.5 217.2,290.0 220.1,299.2 222.8,310.0 224.9,322.2 226.5,325.3 230.0,328.3 233.7,330.3 239.7,335.4 247.2,340.7 255.8,347.2 264.4,353.1 270.0,355.8 275.4,358.4 280.7,361.1 286.1,363.8 291.5,366.0 296.8,367.6 302.2,368.4 310.0,369.3" fill="none" stroke="#008837" stroke-width="2.1" stroke-linejoin="round" stroke-linecap="butt"/>
<polyline points="206.9,254.9 212.2,258.1 217.3,262.2 222.4,265.8 226.5,269.4 229.6,273.5 232.1,278.6 234.2,283.7 236.4,290.0 239.5,297.7 242.6,305.3 244.3,312.5 246.5,318.0 248.7,322.1 251.5,326.8 255.1,331.3 259.0,335.3 263.4,338.7 268.7,342.2 275.4,346.1 280.7,349.9 286.1,354.1 291.5,359.0 296.8,363.3 302.2,366.0 307.6,367.8 312.9,368.6 322.9,369.3" fill="none" stroke="#7b3294" stroke-width="2.1" stroke-linejoin="round" stroke-linecap="butt"/>
<polyline points="206.9,254.9 211.1,261.2 214.7,267.3 217.8,272.5 219.8,277.6 220.9,282.7 221.4,290.0 222.6,305.3 224.2,320.7 224.9,334.0 225.7,340.7 226.8,348.2 231.1,349.9 236.5,352.0 242.9,354.1 249.3,356.3 255.8,358.1 262.2,359.8 268.7,361.3 275.0,362.6 280.7,364.1 291.5,366.5 302.2,368.4 310.0,369.3" fill="none" stroke="#a6dba0" stroke-width="2.1" stroke-linejoin="round" stroke-linecap="butt"/>
<polyline points="206.9,254.9 211.1,264.3 214.2,274.5 217.3,284.7 219.3,292.0 221.9,299.2 224.2,304.6 226.5,310.0 228.2,315.5 229.3,320.0 232.4,327.4 234.8,334.7 236.6,339.3 238.5,343.3 240.8,347.3 243.4,350.7 246.3,353.8 249.5,356.2 253.0,358.2 256.9,359.9 260.9,361.2 265.0,362.3 270.0,363.5 275.0,364.4 280.7,366.0 291.5,367.8 302.2,368.9 322.9,369.4" fill="none" stroke="#c2a5cf" stroke-width="2.1" stroke-linejoin="round" stroke-linecap="butt"/>
<polyline points="384.6,254.9 385.6,267.3 386.1,277.6 386.6,290.0 387.6,300.2 388.6,310.5 389.4,320.7 390.1,330.0 391.1,340.8 392.2,351.5 393.3,362.3 394.4,367.6 396.0,369.2" fill="none" stroke="#008837" stroke-width="2.1" stroke-linejoin="round" stroke-linecap="butt"/>
<polyline points="384.6,254.9 388.1,260.2 391.2,268.4 394.3,275.5 397.3,282.7 400.2,289.5 402.3,294.5 404.3,299.3 405.8,303.0 407.1,307.8 408.3,313.5 409.6,320.0 411.0,327.6 412.5,337.0 413.8,346.0 415.2,354.0 416.6,360.8 418.0,365.5 419.3,368.1 421.0,369.2 423.0,369.6" fill="none" stroke="#7b3294" stroke-width="2.1" stroke-linejoin="round" stroke-linecap="butt"/>
<polyline points="384.6,254.9 388.1,265.3 390.2,275.5 391.7,284.7 392.1,292.0 392.3,300.2 392.7,310.5 393.5,320.7 394.3,330.0 394.9,340.8 395.4,351.5 396.0,362.3 397.1,368.2 402.4,369.3" fill="none" stroke="#a6dba0" stroke-width="2.1" stroke-linejoin="round" stroke-linecap="butt"/>
<polyline points="384.6,254.9 386.6,262.2 387.6,272.5 388.1,282.7 388.4,290.0 389.2,300.2 390.2,310.5 391.0,320.7 392.3,330.0 393.8,338.6 396.0,346.1 401.4,351.5 406.7,356.9 412.1,362.3 416.4,367.6 418.6,369.3" fill="none" stroke="#c2a5cf" stroke-width="2.1" stroke-linejoin="round" stroke-linecap="butt"/>
<polyline points="562.5,254.9 563.1,261.2 564.1,272.5 565.1,282.7 565.6,290.0 566.3,300.2 567.2,310.5 568.0,320.7 568.6,330.0 569.7,338.6 570.8,349.4 572.4,359.0 575.1,361.7 581.5,364.4 588.0,366.6 595.5,367.8 603.0,368.6 608.2,369.3" fill="none" stroke="#008837" stroke-width="2.1" stroke-linejoin="round" stroke-linecap="butt"/>
<polyline points="562.5,254.9 565.6,260.2 567.7,266.5 568.9,271.0 570.2,275.5 571.5,279.2 574.0,283.0 576.9,286.9 580.0,291.5 583.0,296.1 585.8,300.7 588.4,305.3 590.1,308.5 591.4,311.4 592.6,315.2 593.7,319.1 595.1,323.8 596.6,328.0 598.3,332.7 599.9,337.3 601.3,342.0 602.6,346.6 603.9,350.7 605.2,354.6 606.5,358.1 607.9,361.2 609.5,363.8 611.2,365.9 612.8,367.1 614.5,367.9 617.0,368.9" fill="none" stroke="#7b3294" stroke-width="2.1" stroke-linejoin="round" stroke-linecap="butt"/>
<polyline points="562.5,254.9 566.1,267.3 568.2,277.6 570.2,286.8 570.7,290.0 571.3,300.2 572.3,310.5 573.3,320.7 576.4,324.8 579.7,329.3 582.6,333.3 587.9,340.0 593.3,346.6 598.6,353.3 603.9,359.9 607.9,364.6 611.9,367.2 616.4,368.8 625.4,369.3" fill="none" stroke="#a6dba0" stroke-width="2.1" stroke-linejoin="round" stroke-linecap="butt"/>
<polyline points="562.5,254.9 564.4,262.0 565.4,270.0 566.9,277.5 568.4,285.3 570.0,291.5 571.5,297.6 573.4,303.0 575.3,308.3 577.6,313.7 579.9,319.1 581.6,324.5 583.1,329.5 586.6,337.3 590.6,345.3 594.6,351.9 598.6,357.2 602.6,361.9 607.9,365.9 613.2,367.9 620.5,369.3" fill="none" stroke="#c2a5cf" stroke-width="2.1" stroke-linejoin="round" stroke-linecap="butt"/>
<ellipse cx="205.4" cy="306.8" rx="1.3" ry="1.7" fill="none" stroke="#262626" stroke-width="0.8"/>
</svg></div>
</body></html>
